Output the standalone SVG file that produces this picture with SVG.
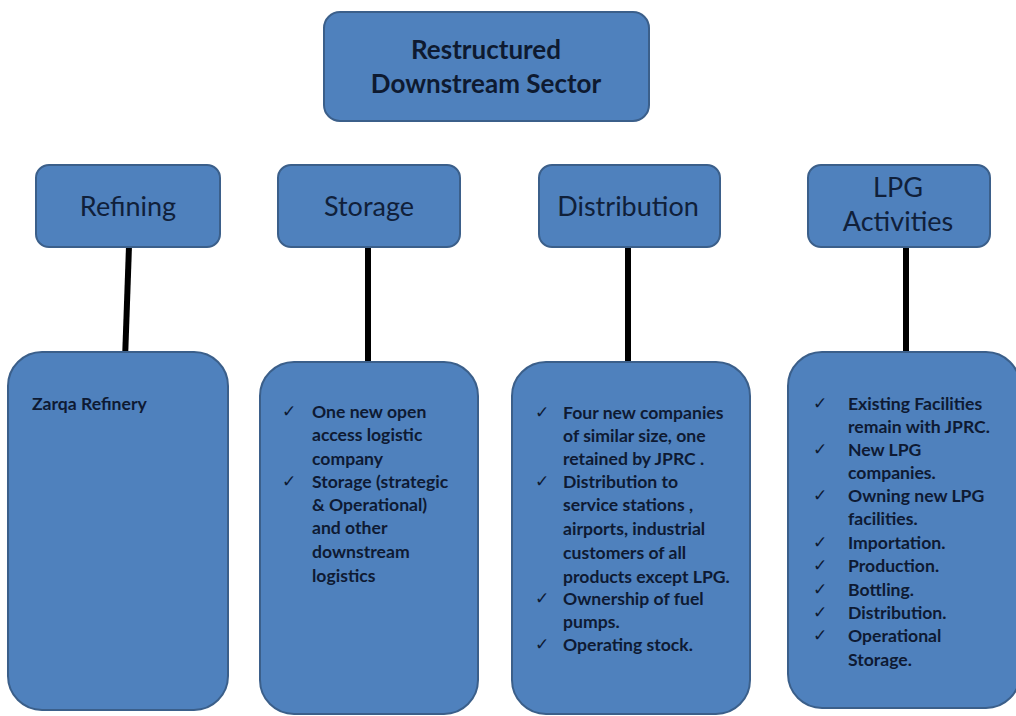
<svg xmlns="http://www.w3.org/2000/svg" width="1016" height="716" viewBox="0 0 1016 716">
<style>
.box{fill:#4F81BD;stroke:#3B5F8A;stroke-width:2}
.title{font-family:Lato,"Liberation Sans",sans-serif;font-weight:bold;font-size:26px;fill:#0E1A30;text-anchor:middle}
.head{font-family:Lato,"Liberation Sans",sans-serif;font-size:27px;fill:#10203A;text-anchor:middle}
.item{font-family:Lato,"Liberation Sans",sans-serif;font-weight:bold;font-size:17.6px;fill:#0E1A33}
.chk{font-family:"DejaVu Sans",sans-serif;font-size:17px;fill:#0E1A33}
.conn{stroke:#000;stroke-width:6;fill:none}
</style>
<rect width="1016" height="716" fill="#fff"/>
<g id="connectors">
<line class="conn" x1="129" y1="246" x2="125" y2="360"/>
<line class="conn" x1="368" y1="246" x2="368" y2="362"/>
<line class="conn" x1="628" y1="246" x2="628" y2="362"/>
<line class="conn" x1="906" y1="246" x2="906" y2="360"/>
</g>
<g id="root">
<rect class="box" x="324" y="12" width="325" height="109" rx="16"/>
<text class="title" x="486" y="59">Restructured</text>
<text class="title" x="486" y="93">Downstream Sector</text>
</g>
<g id="refining">
<rect class="box" x="36" y="165" width="184" height="82" rx="13"/>
<text class="head" x="128" y="216">Refining</text>
</g>
<g id="storage">
<rect class="box" x="278" y="165" width="182" height="82" rx="13"/>
<text class="head" x="369" y="216">Storage</text>
</g>
<g id="distribution">
<rect class="box" x="539" y="165" width="181" height="82" rx="13"/>
<text class="head" x="628" y="216">Distribution</text>
</g>
<g id="lpg">
<rect class="box" x="808" y="165" width="182" height="82" rx="13"/>
<text class="head" x="898" y="197">LPG</text>
<text class="head" x="898" y="231">Activities</text>
</g>
<g id="refining-detail">
<rect class="box" x="8" y="352" width="220" height="358" rx="34"/>
<text class="item" x="32" y="410">Zarqa Refinery</text>
</g>
<g id="storage-detail">
<rect class="box" x="260" y="362" width="218" height="352" rx="34"/>
<text class="chk" x="282" y="417">✓</text>
<text class="chk" x="282" y="487">✓</text>
<text class="item" x="312" y="418">One new open</text>
<text class="item" x="312" y="441">access logistic</text>
<text class="item" x="312" y="465">company</text>
<text class="item" x="312" y="488">Storage (strategic</text>
<text class="item" x="312" y="511">&amp; Operational)</text>
<text class="item" x="312" y="534">and other</text>
<text class="item" x="312" y="558">downstream</text>
<text class="item" x="312" y="582">logistics</text>
</g>
<g id="distribution-detail">
<rect class="box" x="512" y="362" width="238" height="352" rx="34"/>
<text class="chk" x="535" y="418">✓</text>
<text class="chk" x="535" y="487">✓</text>
<text class="chk" x="535" y="604">✓</text>
<text class="chk" x="535" y="650">✓</text>
<text class="item" x="563" y="419">Four new companies</text>
<text class="item" x="563" y="442">of similar size, one</text>
<text class="item" x="563" y="465">retained by JPRC .</text>
<text class="item" x="563" y="488">Distribution to</text>
<text class="item" x="563" y="511">service stations ,</text>
<text class="item" x="563" y="535">airports, industrial</text>
<text class="item" x="563" y="559">customers of all</text>
<text class="item" x="563" y="583">products except LPG.</text>
<text class="item" x="563" y="605">Ownership of fuel</text>
<text class="item" x="563" y="628">pumps.</text>
<text class="item" x="563" y="651">Operating stock.</text>
</g>
<g id="lpg-detail">
<rect class="box" x="788" y="352" width="232" height="356" rx="34"/>
<text class="chk" x="813" y="409">✓</text>
<text class="chk" x="813" y="455">✓</text>
<text class="chk" x="813" y="501">✓</text>
<text class="chk" x="813" y="548">✓</text>
<text class="chk" x="813" y="571">✓</text>
<text class="chk" x="813" y="595">✓</text>
<text class="chk" x="813" y="618">✓</text>
<text class="chk" x="813" y="641">✓</text>
<text class="item" x="848" y="410">Existing Facilities</text>
<text class="item" x="848" y="433">remain with JPRC.</text>
<text class="item" x="848" y="456">New LPG</text>
<text class="item" x="848" y="479">companies.</text>
<text class="item" x="848" y="502">Owning new LPG</text>
<text class="item" x="848" y="525">facilities.</text>
<text class="item" x="848" y="549">Importation.</text>
<text class="item" x="848" y="572">Production.</text>
<text class="item" x="848" y="596">Bottling.</text>
<text class="item" x="848" y="619">Distribution.</text>
<text class="item" x="848" y="642">Operational</text>
<text class="item" x="848" y="666">Storage.</text>
</g>
</svg>
